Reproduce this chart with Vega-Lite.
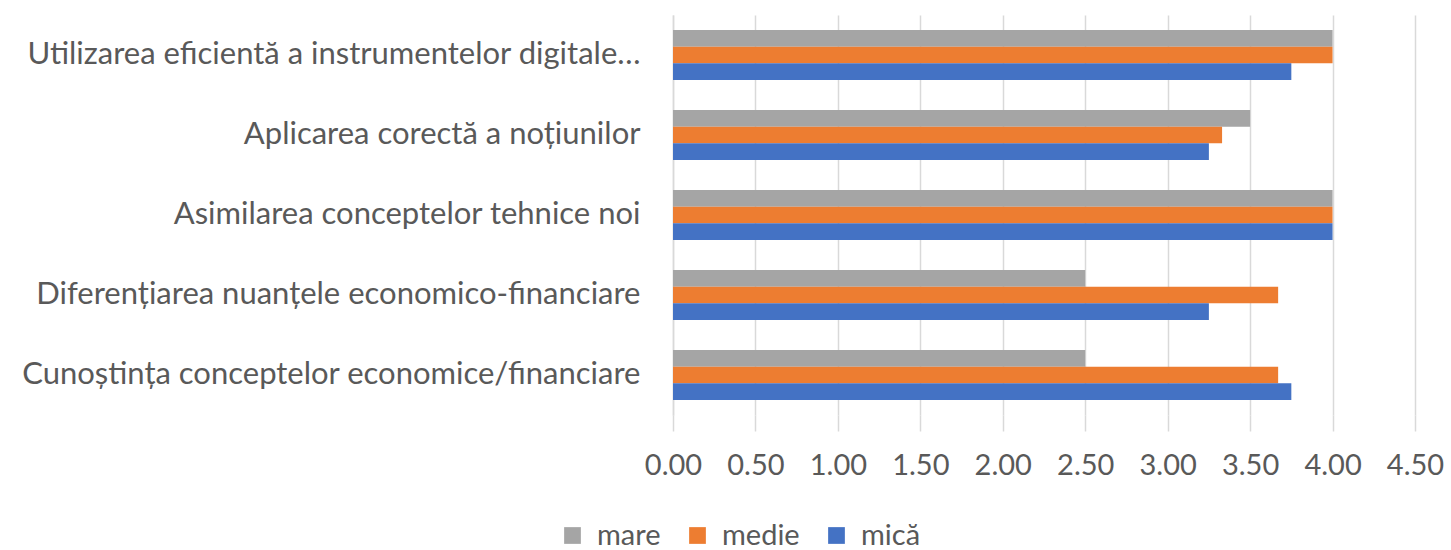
{
  "$schema": "https://vega.github.io/schema/vega-lite/v6.json",
  "width": 742,
  "height": 400,
  "autosize": {"type": "none"},
  "padding": {"left": 673, "top": 15, "right": 36, "bottom": 135},
  "background": "white",
  "config": {"view": {"stroke": null}, "font": "Lato"},
  "data": {
    "values": [
      {"cat": "Utilizarea eficientă a instrumentelor digitale…", "grup": "mare", "val": 4.0},
      {"cat": "Utilizarea eficientă a instrumentelor digitale…", "grup": "medie", "val": 4.0},
      {"cat": "Utilizarea eficientă a instrumentelor digitale…", "grup": "mică", "val": 3.75},
      {"cat": "Aplicarea corectă a noțiunilor", "grup": "mare", "val": 3.5},
      {"cat": "Aplicarea corectă a noțiunilor", "grup": "medie", "val": 3.33},
      {"cat": "Aplicarea corectă a noțiunilor", "grup": "mică", "val": 3.25},
      {"cat": "Asimilarea conceptelor tehnice noi", "grup": "mare", "val": 4.0},
      {"cat": "Asimilarea conceptelor tehnice noi", "grup": "medie", "val": 4.0},
      {"cat": "Asimilarea conceptelor tehnice noi", "grup": "mică", "val": 4.0},
      {"cat": "Diferențiarea nuanțele economico-financiare", "grup": "mare", "val": 2.5},
      {"cat": "Diferențiarea nuanțele economico-financiare", "grup": "medie", "val": 3.67},
      {"cat": "Diferențiarea nuanțele economico-financiare", "grup": "mică", "val": 3.25},
      {"cat": "Cunoștința conceptelor economice/financiare", "grup": "mare", "val": 2.5},
      {"cat": "Cunoștința conceptelor economice/financiare", "grup": "medie", "val": 3.67},
      {"cat": "Cunoștința conceptelor economice/financiare", "grup": "mică", "val": 3.75}
    ]
  },
  "mark": {"type": "bar"},
  "encoding": {
    "y": {
      "field": "cat", "type": "nominal", "sort": null, "title": null,
      "scale": {"paddingInner": 0.375, "paddingOuter": 0.1875},
      "axis": {
        "labelFont": "Lato", "labelFontSize": 31, "labelColor": "#595959",
        "labelPadding": 33, "ticks": false, "domainColor": "#D9D9D9", "domainWidth": 1.5,
        "labelLimit": 700
      }
    },
    "yOffset": {"field": "grup", "type": "nominal", "sort": ["mare", "medie", "mică"]},
    "x": {
      "field": "val", "type": "quantitative", "title": null,
      "scale": {"domain": [0, 4.5], "nice": false},
      "axis": {
        "values": [0, 0.5, 1, 1.5, 2, 2.5, 3, 3.5, 4, 4.5],
        "format": ".2f", "labelFont": "Lato", "labelFontSize": 29, "labelColor": "#595959",
        "labelPadding": 20, "tickSize": 16, "tickColor": "#D9D9D9", "tickWidth": 1.5,
        "domain": false, "gridColor": "#D9D9D9", "gridWidth": 1.5,
        "labelFlush": false
      }
    },
    "color": {
      "field": "grup", "type": "nominal",
      "scale": {"domain": ["mare", "medie", "mică"], "range": ["#A5A5A5", "#ED7D31", "#4472C4"]},
      "legend": {
        "title": null, "orient": "none", "direction": "horizontal",
        "legendX": -115, "legendY": 506, "gridAlign": "none",
        "symbolType": "square", "symbolSize": 280, "symbolStrokeWidth": 0,
        "labelFont": "Lato", "labelFontSize": 29, "labelColor": "#595959",
        "columnPadding": 22, "labelOffset": 10
      }
    }
  }
}
